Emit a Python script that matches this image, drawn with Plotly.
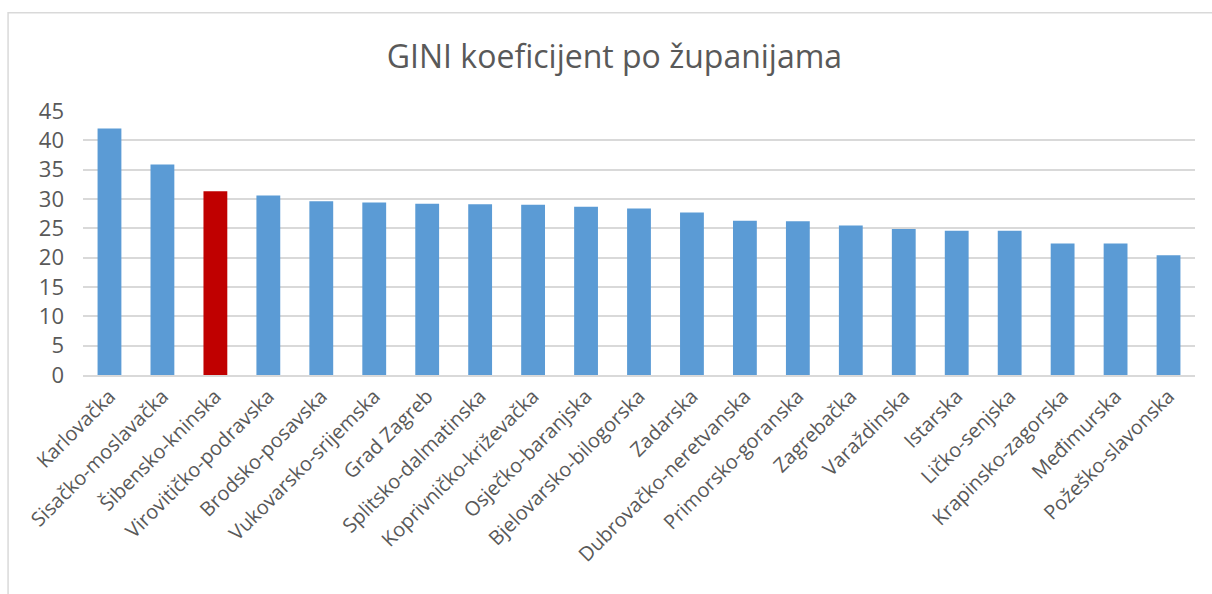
import plotly.graph_objects as go

zupanije = ["Karlovačka", "Sisačko-moslavačka", "Šibensko-kninska", "Virovitičko-podravska",
            "Brodsko-posavska", "Vukovarsko-srijemska", "Grad Zagreb", "Splitsko-dalmatinska",
            "Koprivničko-križevačka", "Osječko-baranjska", "Bjelovarsko-bilogorska", "Zadarska",
            "Dubrovačko-neretvanska", "Primorsko-goranska", "Zagrebačka", "Varaždinska",
            "Istarska", "Ličko-senjska", "Krapinsko-zagorska", "Međimurska", "Požeško-slavonska"]
gini = [42.0, 35.9, 31.3, 30.6, 29.6, 29.4, 29.2, 29.1, 29.0, 28.7, 28.4, 27.7,
        26.3, 26.2, 25.5, 24.9, 24.6, 24.6, 22.4, 22.4, 20.4]
istaknuta = "Šibensko-kninska"

boje = ["#C00000" if z == istaknuta else "#5B9BD5" for z in zupanije]

fig = go.Figure(go.Bar(x=zupanije, y=gini, marker=dict(color=boje, line=dict(width=0))))

W, H = 1212, 594
l, r, t, b = 82.5, 16.5, 110.7, 219.3
pw, ph = W - l - r, H - t - b

fig.update_layout(
    width=W, height=H,
    margin=dict(l=l, r=r, t=t, b=b, autoexpand=False),
    paper_bgcolor="white", plot_bgcolor="white",
    bargap=0.55,
    showlegend=False,
    font=dict(family="Open Sans", color="#595959"),
    title=dict(text="GINI koeficijent po županijama", x=0.507, xref="container",
               y=1 - 57 / H, yref="container", xanchor="center", yanchor="middle",
               font=dict(size=32, color="#595959", family="Open Sans")),
    xaxis=dict(tickangle=-45, tickfont=dict(size=20, color="#595959"), showgrid=False,
               showline=True, linecolor="#D9D9D9", linewidth=1.5, ticks=""),
    yaxis=dict(range=[0, 45], dtick=5, tickfont=dict(size=22, color="#595959"),
               showgrid=True, gridcolor="#D9D9D9", gridwidth=1.5, zeroline=False,
               showline=False, ticks="", ticklabelstandoff=18),
    shapes=[dict(type="rect", xref="paper", yref="paper",
                 x0=(7.5 - l) / pw, x1=1.2, y0=-2, y1=1 + (t - 12.5) / ph,
                 line=dict(color="#D9D9D9", width=1.5), fillcolor="rgba(0,0,0,0)", layer="below")],
)

fig.write_html("out.html", config={"displayModeBar": False},
               post_script="document.body.style.margin='0';document.body.style.overflow='hidden';")
